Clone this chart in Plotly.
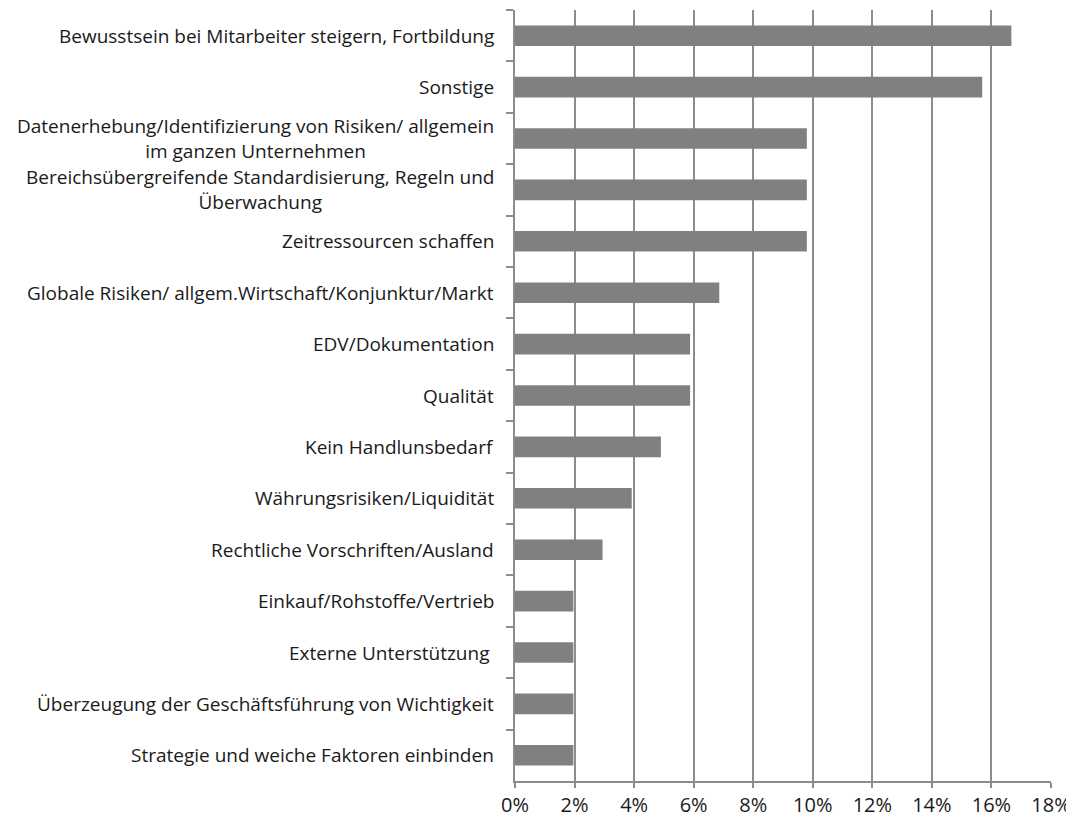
import plotly.graph_objects as go

categories = [
    "Bewusstsein bei Mitarbeiter steigern, Fortbildung",
    "Sonstige",
    "Datenerhebung/Identifizierung von Risiken/ allgemein<br>im ganzen Unternehmen",
    "Bereichsübergreifende Standardisierung, Regeln und<br>Überwachung",
    "Zeitressourcen schaffen",
    "Globale Risiken/ allgem.Wirtschaft/Konjunktur/Markt",
    "EDV/Dokumentation",
    "Qualität",
    "Kein Handlunsbedarf",
    "Währungsrisiken/Liquidität",
    "Rechtliche Vorschriften/Ausland",
    "Einkauf/Rohstoffe/Vertrieb",
    "Externe Unterstützung ",
    "Überzeugung der Geschäftsführung von Wichtigkeit",
    "Strategie und weiche Faktoren einbinden",
]
values = [0.1667, 0.1569, 0.0980, 0.0980, 0.0980, 0.0686, 0.0588, 0.0588,
          0.0490, 0.0392, 0.0294, 0.0196, 0.0196, 0.0196, 0.0196]
x_ticks = [0, 0.02, 0.04, 0.06, 0.08, 0.10, 0.12, 0.14, 0.16, 0.18]
x_tick_labels = ["0%", "2%", "4%", "6%", "8%", "10%", "12%", "14%", "16%", "18%"]

FONT = "Open Sans, Noto Sans, sans-serif"
GRID = "#8c8c8c"
TEXT = "#1a1a1a"
LABEL_SIZE = 19

fig = go.Figure(go.Bar(
    x=values, y=categories, orientation="h",
    marker=dict(color="#808080", line=dict(width=0)),
    width=0.4,
))

annotations = [
    dict(text=c, x=0, y=c, xref="paper", yref="y", xanchor="right",
         yanchor="middle", align="center", showarrow=False, xshift=-19,
         font=dict(family=FONT, size=LABEL_SIZE, color=TEXT))
    for c in categories
]

fig.update_layout(
    width=1074, height=818,
    margin=dict(l=507, r=31, t=2, b=45),
    paper_bgcolor="white", plot_bgcolor="white",
    showlegend=False,
    annotations=annotations,
    xaxis=dict(
        range=[0, 0.18], tickvals=x_ticks, ticktext=x_tick_labels,
        showgrid=True, gridcolor=GRID, gridwidth=1.5,
        zeroline=False, showline=True, linecolor=GRID, linewidth=1.5,
        ticks="outside", ticklen=5, tickcolor=GRID, tickwidth=1.5,
        tickfont=dict(family=FONT, size=20, color=TEXT),
        fixedrange=True,
    ),
    yaxis=dict(
        categoryorder="array", categoryarray=categories,
        autorange="reversed",
        showticklabels=False,
        showline=True, linecolor=GRID, linewidth=1.5,
        ticks="outside", tickson="boundaries", ticklen=7,
        tickcolor=GRID, tickwidth=1.5, showgrid=False,
    ),
)

fig.write_html("out.html")
